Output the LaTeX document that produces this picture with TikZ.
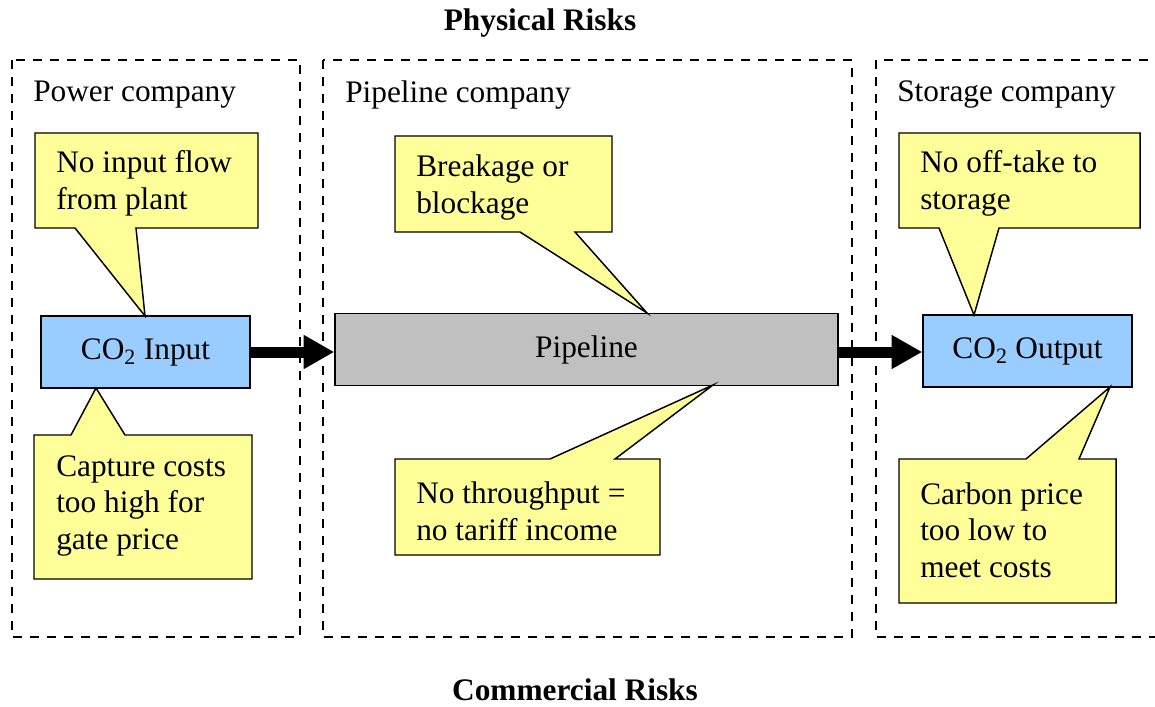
\documentclass[tikz,border=0pt]{standalone}
\usepackage{fontspec}
\setmainfont{Liberation Serif}
\usetikzlibrary{arrows.meta}
\definecolor{cyellow}{HTML}{FFFF99}
\definecolor{cblue}{HTML}{99CCFF}
\definecolor{cgray}{HTML}{C0C0C0}
\begin{document}
\begin{tikzpicture}[x=0.75pt,y=-0.75pt,
  every node/.style={font=\fontsize{23.5}{27.5}\selectfont},
  zone/.style={line width=1.5pt, dash pattern=on 6.75pt off 6pt},
  proc/.style={draw, line width=1.1pt, fill=cblue, inner sep=0pt},
  pipebox/.style={draw, line width=1.1pt, fill=cgray, inner sep=0pt},
  callshape/.style={draw, line width=1.1pt, fill=cyellow, line join=miter},
  ctext/.style={anchor=west, align=left, inner sep=0pt},
  title/.style={font=\fontsize{23.5}{27.5}\selectfont\bfseries, inner sep=0pt},
  flow/.style={line width=8.25pt, -{Triangle[length=23pt,width=24pt]}}
]
\useasboundingbox (0,0) rectangle (1155,706);

% titles
\node[title] (phys) at (540,23) {Physical Risks};
\node[title, anchor=base] (comm) at (575,700) {Commercial Risks};

% dashed zones
\draw[zone] (12,60) rectangle (300,637);
\draw[zone] (323,60) rectangle (852,637);
\draw[zone] (1165,60) -- (876,60) -- (876,637) -- (1165,637);

\node[anchor=west, inner sep=0pt] (z1) at (33,95) {Power company};
\node[anchor=west, inner sep=0pt] (z2) at (345,95) {Pipeline company};
\node[anchor=west, inner sep=0pt] (z3) at (897,95) {Storage company};

% main boxes
\node[proc, minimum width=156.75pt, minimum height=54pt] (in) at (145.5,352) {CO\textsubscript{2} Input};
\node[pipebox, minimum width=377.25pt, minimum height=54pt] (pipe) at (586.5,349.5) {Pipeline};
\node[proc, minimum width=156.75pt, minimum height=54pt] (out) at (1027.5,351) {CO\textsubscript{2} Output};

% flows
\draw[flow] (in.east) -- (in.east -| pipe.west);
\draw[flow] (pipe.east |- 0,352) -- (out.west |- 0,352);

% callouts: Power company
\draw[callshape] (35,133) -- (258,133) -- (258,228) -- (136,228) -- (145,316) -- (75,228) -- (35,228) -- cycle;
\node[ctext] (c1) at (56,183.5) {No input flow\\from plant};

\draw[callshape] (34,435) -- (71,435) -- (96,388) -- (125,435) -- (252,435) -- (252,579) -- (34,579) -- cycle;
\node[ctext] (c2) at (56,506) {Capture costs\\too high for\\gate price};

% callouts: Pipeline company
\draw[callshape] (395,136) -- (612,136) -- (612,232) -- (575,232) -- (647,313) -- (520,232) -- (395,232) -- cycle;
\node[ctext] (c3) at (416,187.5) {Breakage or\\blockage};

\draw[callshape] (395,459) -- (550,459) -- (713,385) -- (615,459) -- (660,459) -- (660,555) -- (395,555) -- cycle;
\node[ctext] (c4) at (416,511) {No throughput =\\no tariff income};

% callouts: Storage company
\draw[callshape] (899,133) -- (1140,133) -- (1140,228) -- (999,228) -- (974,315) -- (939,228) -- (899,228) -- cycle;
\node[ctext] (c5) at (920,183.5) {No off-take to\\storage};

\draw[callshape] (899,459) -- (1026,459) -- (1110,387) -- (1079,459) -- (1116,459) -- (1116,603) -- (899,603) -- cycle;
\node[ctext] (c6) at (920,530) {Carbon price\\too low to\\meet costs};
\end{tikzpicture}
\end{document}
